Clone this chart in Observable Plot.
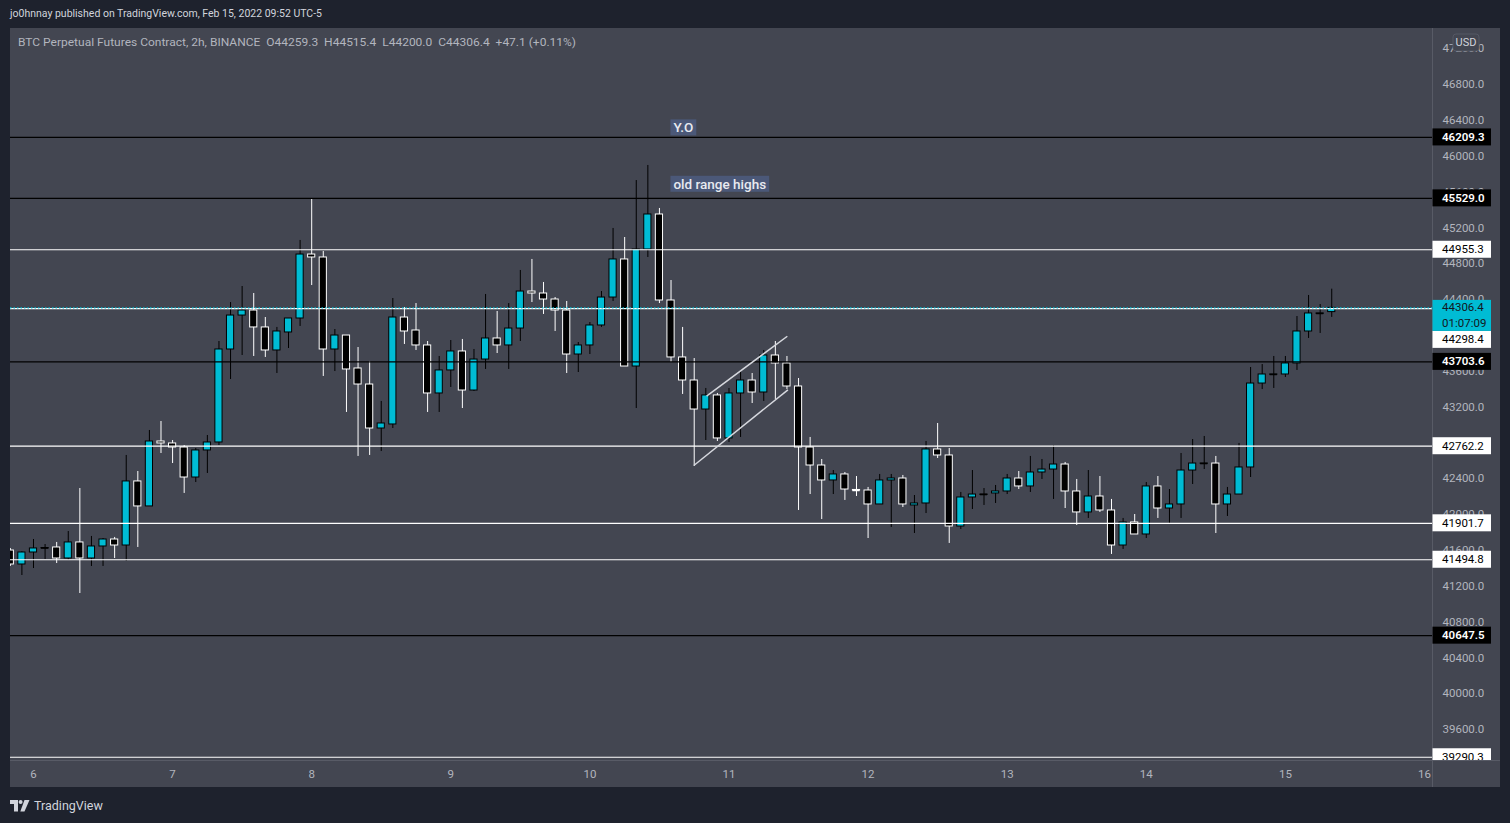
<!DOCTYPE html>
<html>
<head>
<meta charset="utf-8">
<script src="https://cdn.jsdelivr.net/npm/d3@7"></script>
<script src="https://cdn.jsdelivr.net/npm/@observablehq/plot@0.6"></script>
<style>
html,body{margin:0;padding:0;background:#1e222d;width:1510px;height:823px;overflow:hidden;font-family:Roboto,"Noto Sans",sans-serif;}
#top{position:absolute;left:10px;top:7px;color:#d1d4dc;font-size:11px;line-height:13px;white-space:nowrap;transform-origin:left top;}
#panel{position:absolute;left:10px;top:28px;width:1490px;height:759px;background:#434651;overflow:hidden;}
#panel svg{position:absolute;left:0;top:0;}
#legend{position:absolute;left:8px;top:8px;color:#b2b5be;font-size:11px;line-height:13px;white-space:nowrap;transform-origin:left top;z-index:2;}
#footer{position:absolute;left:10px;top:798px;display:flex;align-items:center;color:#d1d4dc;font-size:12.5px;}
#footer span{margin-left:4px;}
</style>
</head>
<body>
<div id="top">jo0hnnay published on TradingView.com, Feb 15, 2022 09:52 UTC-5</div>
<div id="panel"><div id="legend">BTC Perpetual Futures Contract, 2h, BINANCE&nbsp;&nbsp;O44259.3&nbsp;&nbsp;H44515.4&nbsp;&nbsp;L44200.0&nbsp;&nbsp;C44306.4&nbsp;&nbsp;+47.1 (+0.11%)</div></div>
<div id="footer"><svg width="20" height="12" viewBox="0 0 20 12"><path fill="#d1d4dc" d="M0 0h8v11.5h-4v-7.5h-4z"/><circle fill="#d1d4dc" cx="10.6" cy="2" r="2"/><path fill="#d1d4dc" d="M14.5 0h5l-5 11.5h-4.2z"/></svg><span>TradingView</span></div>
<script>
// ---- candle data (2h candles, first candle opens 2022-02-05 20:00 UTC) ----
const firstCandleTime = "2022-02-05T20:00:00Z";
const candleHours = 2;
const open  = [41598,41442,41576,41621,41632,41509,41688,41509,41643,41721,41654,42369,42090,42815,42793,42748,42413,42715,42804,43842,44221,44277,44088,43831,44032,44188,44902,44869,43842,43998,43630,43451,42960,43005,44199,44054,43887,43351,43608,43820,43384,43730,43965,43887,44076,44489,44467,44400,44277,43786,43887,44110,44422,44847,43652,44958,45349,44389,43753,43496,43172,43329,42849,43351,43496,43362,43775,43686,43429,42748,42547,42380,42447,42274,42268,42112,42380,42402,42101,42123,42726,42659,41866,42190,42218,42235,42257,42402,42313,42469,42502,42558,42257,42023,42201,42045,41654,41911,41777,42313,42067,42112,42491,42566,42569,42112,42223,42525,43462,43560,43563,43686,44043,44240,44259.3];
const high  = [41621,41585,41721,41665,41688,41810,42290,41755,41732,41744,42659,42480,42938,43038,42826,42770,42737,42882,43931,44366,44545,44467,44199,44088,44188,45059,45527,44936,44065,43998,43864,43708,43262,44411,44311,44355,43931,43764,43942,43954,43842,44456,44266,44355,44724,44847,44590,44422,44378,43920,44143,44489,45193,45092,45728,45896,45416,44612,44088,43741,43407,43351,43407,43608,43574,43831,43931,43764,43518,42860,42614,42491,42469,42424,42302,42447,42447,42436,42212,42815,43016,42737,42246,42491,42290,42324,42447,42480,42648,42614,42770,42581,42391,42491,42424,42168,41956,42000,42357,42424,42279,42681,42837,42871,42648,42302,42793,43641,43674,43764,43764,44210,44445,44344,44515.4];
const low   = [41420,41319,41397,41498,41453,41487,41118,41420,41420,41509,41476,41632,42090,42681,42569,42235,42357,42458,42770,43507,43775,43764,43753,43574,43853,44099,44556,43541,43596,43139,42648,42659,42703,42960,43898,43831,43139,43139,43418,43183,43373,43619,43797,43619,43931,44366,44233,44043,43574,43585,43786,44088,44378,43652,43183,44869,44355,43697,43340,42536,42826,42815,42804,42860,43239,43262,43284,43395,42045,42223,41944,42223,42157,42201,41732,42112,41855,42078,41788,42011,42625,41677,41833,42056,42101,42123,42223,42279,42246,42391,42168,42067,41877,41956,42023,41554,41610,41777,41732,41956,41900,41956,42335,42502,41788,41978,42223,42413,43395,43407,43529,43608,43965,44021,44200.0];
const close = [41442,41576,41621,41626,41509,41688,41509,41643,41721,41654,42369,42090,42815,42793,42748,42413,42715,42804,43842,44221,44277,44088,43831,44043,44188,44902,44869,43842,43998,43619,43451,42960,43016,44199,44043,43887,43351,43608,43820,43384,43730,43965,43887,44076,44489,44467,44400,44277,43786,43887,44110,44422,44847,43652,44958,45349,44389,43753,43496,43172,43329,42849,43351,43496,43362,43775,43686,43429,42748,42547,42380,42447,42279,42268,42112,42380,42402,42112,42123,42726,42659,41866,42190,42223,42223,42257,42402,42313,42469,42502,42558,42257,42023,42201,42045,41654,41911,41777,42313,42067,42112,42491,42569,42569,42112,42223,42525,43462,43563,43563,43686,44043,44244,44244,44306.4];

// ---- horizontal levels drawn on the chart ----
const levelPrices = [46209.3, 45529.0, 44955.3, 44298.4, 43703.6, 42762.2, 41901.7, 41494.8, 40647.5, 39290.3];
const levelColors = ["black","black","white","white","black","white","white","white","black","white"];
const lastPrice = 44306.4;
const countdown = "01:07:09";

// ---- rising channel drawing ----
const channelStart = ["2022-02-10T17:56:00Z", "2022-02-10T20:08:00Z"];
const channelStartPrice = [42547, 43322];
const channelEnd = ["2022-02-11T10:10:00Z", "2022-02-11T10:04:00Z"];
const channelEndPrice = [43392, 43990];

// ---- text notes ----
const noteText = ["Y.O", "old range highs"];
const noteTime = ["2022-02-10T14:25:00Z", "2022-02-10T14:25:00Z"];
const notePrice = [46314, 45684];

// ---- axis ticks ----
const priceTicks = [39600,40000,40400,40800,41200,41600,42000,42400,42800,43200,43600,44000,44400,44800,45200,45600,46000,46400,46800,47200];
const dayTicks = ["2022-02-06","2022-02-07","2022-02-08","2022-02-09","2022-02-10","2022-02-11","2022-02-12","2022-02-13","2022-02-14","2022-02-15","2022-02-16"];

// ---- build tables ----
const HOUR = 3600e3;
const t0 = new Date(firstCandleTime).getTime();
const candles = open.map((o, i) => ({
  t: new Date(t0 + i * candleHours * HOUR),
  open: o, high: high[i], low: low[i], close: close[i],
  up: close[i] >= o
}));
const halfBody = 0.62 * HOUR;
const levels = levelPrices.map((p, i) => ({price: p, color: levelColors[i]}));
const channel = channelStart.map((s, i) => ({t1: new Date(s), p1: channelStartPrice[i], t2: new Date(channelEnd[i]), p2: channelEndPrice[i]}));
const notes = noteText.map((s, i) => ({text: s, t: new Date(noteTime[i]), price: notePrice[i]}));

const W = 1490, HGT = 759, MR = 68, MB = 27;
const UP = "#00bcd4";

function axisLabels(index, scales, values, dims) {
  const y = typeof scales.y === "function" ? scales.y : scales.y.apply;
  const left = W - MR, bottom = HGT - MB;
  const g = d3.create("svg:g").attr("class", "pricelabels").attr("text-anchor", "start");
  g.append("line").attr("x1", left + 0.5).attr("x2", left + 0.5).attr("y1", 0).attr("y2", HGT).attr("stroke", "#585b66");
  g.append("line").attr("x1", 0).attr("x2", W).attr("y1", bottom + 0.5).attr("y2", bottom + 0.5).attr("stroke", "#585b66");
  g.append("clipPath").attr("id", "plclip").append("rect").attr("x", left).attr("y", 0).attr("width", MR).attr("height", bottom);
  const lg = g.append("g").attr("clip-path", "url(#plclip)").style("font-family", "Roboto, sans-serif").style("font-size", "11.5px");
  const cy = y(lastPrice);
  const curTop = cy - 7.5, curBot = cy + 23.5;
  levels.forEach(l => {
    let top = y(l.price) - 8.5;
    if (top < curBot && top + 17 > curTop) top = curBot;
    const dark = l.color === "black";
    lg.append("rect").attr("x", left + 0.5).attr("y", top).attr("width", 58.5).attr("height", 17).attr("fill", dark ? "#000" : "#fff");
    lg.append("text").attr("x", left + 10).attr("y", top + 8.5).attr("dy", "0.35em").attr("text-anchor", "start")
      .attr("fill", dark ? "#fff" : "#000")
      .style("font-weight", dark ? "600" : "400").text(l.price.toFixed(1));
  });
  lg.append("rect").attr("x", left + 0.5).attr("y", curTop).attr("width", 58.5).attr("height", 31).attr("fill", UP);
  lg.append("text").attr("x", left + 10).attr("y", cy).attr("dy", "0.35em").attr("text-anchor", "start").attr("fill", "#131722").text(lastPrice.toFixed(1));
  lg.append("text").attr("x", left + 10).attr("y", cy + 15.3).attr("dy", "0.35em").attr("text-anchor", "start").attr("fill", "#131722").text(countdown);
  // USD badge
  g.append("rect").attr("x", left + 21).attr("y", 6).attr("width", 26).attr("height", 17).attr("rx", 3)
    .attr("fill", "#434651").attr("stroke", "#555864");
  g.append("text").attr("x", left + 34).attr("y", 14.5).attr("dy", "0.35em").attr("text-anchor", "middle")
    .attr("fill", "#d1d4dc").style("font-size", "11px").style("font-family", "Roboto, sans-serif").text("USD");
  return g.node();
}

const chart = Plot.plot({
  width: W, height: HGT,
  marginLeft: 0, marginRight: MR, marginTop: 0, marginBottom: MB,
  style: {background: "transparent", color: "#b2b5be", fontSize: "11.5px", fontFamily: "Roboto, sans-serif"},
  x: {type: "utc", domain: [new Date("2022-02-05T20:02:00Z"), new Date("2022-02-16T01:23:00Z")],
      ticks: dayTicks.map(d => new Date(d + "T00:00:00Z")), tickFormat: d3.utcFormat("%-d"),
      tickSize: 0, tickPadding: 9, label: null},
  y: {domain: [39254, 47425.1], axis: "right", ticks: priceTicks, tickFormat: d => d.toFixed(1),
      tickSize: 0, tickPadding: 10, label: null},
  color: {type: "identity"},
  marks: [
    Plot.ruleX(candles, {x: "t", y1: "low", y2: "high", stroke: d => d.up ? "#000000" : "#ffffff", strokeWidth: 1, clip: true}),
    Plot.rect(candles, {x1: d => new Date(+d.t - halfBody), x2: d => new Date(+d.t + halfBody), y1: "open", y2: "close",
      fill: d => d.up ? UP : "#000000", stroke: d => d.up ? "#000000" : "#ffffff", strokeWidth: 1, clip: true}),
    Plot.ruleY(candles, {filter: d => Math.abs(d.close - d.open) < 12, y: "close",
      x1: d => new Date(+d.t - halfBody), x2: d => new Date(+d.t + halfBody), stroke: d => d.up ? "#000000" : "#ffffff", strokeWidth: 1.5, clip: true}),
    Plot.ruleY(levels, {y: "price", stroke: "color", strokeWidth: 1.2}),
    Plot.ruleY([lastPrice], {stroke: UP, strokeWidth: 1.2, strokeDasharray: "1.5,2"}),
    Plot.link(channel, {x1: "t1", y1: "p1", x2: "t2", y2: "p2", stroke: "#d6d8de", strokeWidth: 1.5}),
    Plot.text(notes, {x: "t", y: "price", text: "text", textAnchor: "start", fill: "#e8eaf0", fontSize: 13.5, fontWeight: 500}),
    axisLabels
  ]
});

const panel = document.getElementById("panel");
panel.insertBefore(chart, panel.firstChild);

// move price labels on top of the axis
const pl = chart.querySelector(".pricelabels");
if (pl) chart.appendChild(pl);

// background boxes for the text notes
d3.select(chart).selectAll("text").each(function() {
  if (!noteText.includes(this.textContent)) return;
  const b = this.getBBox();
  const r = document.createElementNS("http://www.w3.org/2000/svg", "rect");
  r.setAttribute("x", b.x - 3); r.setAttribute("y", b.y);
  r.setAttribute("width", b.width + 6); r.setAttribute("height", b.height);
  r.setAttribute("fill", "#4b5878");
  const tr = this.getAttribute("transform");
  if (tr) r.setAttribute("transform", tr);
  this.parentNode.insertBefore(r, this);
});

// fit header texts to the reference widths
function fit(id, target) {
  const el = document.getElementById(id);
  const w = el.getBoundingClientRect().width;
  if (w > 0) el.style.transform = "scaleX(" + (target / w) + ")";
}
fit("top", 312);
fit("legend", 558);
</script>
</body>
</html>
